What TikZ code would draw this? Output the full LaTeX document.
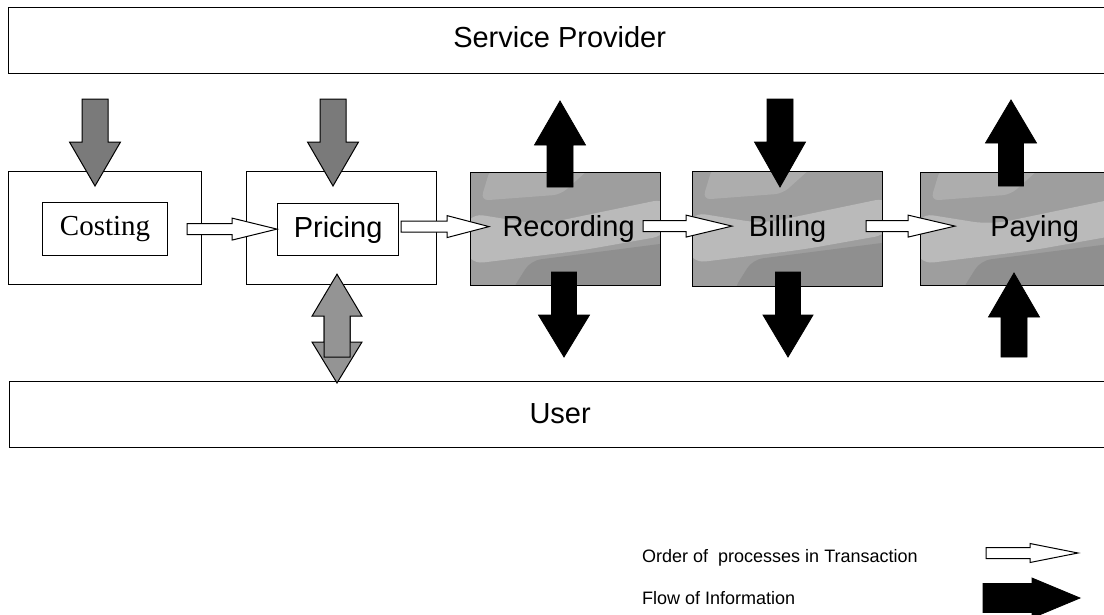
\documentclass[tikz,border=0pt]{standalone}
\usepackage{fontspec}
\setmainfont{Liberation Sans}
\newfontfamily\timesfont{Liberation Serif}
\usetikzlibrary{calc}

% block arrows: style, from, to, shaft half-width, head half-width, head length
\newcommand\rightblock[6]{%
  \path[#1] let \p1=#2, \p2=#3 in
    (\x1,\y1+#4) -- (\x2-#6,\y1+#4) -- (\x2-#6,\y1+#5) -- (\x2,\y1)
    -- (\x2-#6,\y1-#5) -- (\x2-#6,\y1-#4) -- (\x1,\y1-#4) -- cycle;}
\newcommand\downblock[6]{%
  \path[#1] let \p1=#2, \p2=#3 in
    (\x1-#4,\y1) -- (\x1-#4,\y2+#6) -- (\x1-#5,\y2+#6) -- (\x1,\y2)
    -- (\x1+#5,\y2+#6) -- (\x1+#4,\y2+#6) -- (\x1+#4,\y1) -- cycle;}
\newcommand\upblock[6]{%
  \path[#1] let \p1=#2, \p2=#3 in
    (\x1-#4,\y1) -- (\x1-#4,\y2-#6) -- (\x1-#5,\y2-#6) -- (\x1,\y2)
    -- (\x1+#5,\y2-#6) -- (\x1+#4,\y2-#6) -- (\x1+#4,\y1) -- cycle;}

\tikzset{
  labelfont/.style={font=\fontsize{29}{31}\selectfont},
  band/.style={draw, line width=1.3pt, anchor=north west, inner sep=0pt, labelfont},
  stage/.style={draw, line width=1.2pt, anchor=north west, inner sep=0pt},
  inner/.style={draw, line width=1.2pt, anchor=north west, inner sep=0pt, labelfont},
  textured/.style={stage, labelfont, fill=black!38,
    path picture={
      \coordinate (tl) at (path picture bounding box.north west);
      \fill[black!27, rounded corners=18pt]
        ($(tl)+(-5,40)$) -- ($(tl)+(70,52)$) -- ($(tl)+(200,25)$)
        -- ($(tl)+(200,62)$) -- ($(tl)+(110,78)$) -- ($(tl)+(-5,92)$) -- cycle;
      \fill[black!44, rounded corners=10pt]
        ($(tl)+(60,88)$) -- ($(tl)+(200,70)$) -- ($(tl)+(200,120)$) -- ($(tl)+(40,120)$) -- cycle;
      \fill[black!32, rounded corners=8pt]
        ($(tl)+(20,-5)$) -- ($(tl)+(120,-5)$) -- ($(tl)+(90,22)$) -- ($(tl)+(10,28)$) -- cycle;
    }},
  order/.style={draw=black, line width=1pt, fill=white},
  flow/.style={fill=black, draw=black, line width=0.8pt},
  flowgray/.style={fill=black!52, draw=black, line width=1pt},
  flowlight/.style={fill=black!42, draw=black, line width=1pt},
  legendtext/.style={anchor=base west, inner sep=0pt, font=\fontsize{18}{20}\selectfont},
}

\begin{document}
\begin{tikzpicture}[x=1pt, y=-1pt]
\useasboundingbox (0,0) rectangle (1104,614);

% parties
\node[band, minimum width=1102pt, minimum height=66pt, text height=20pt, text depth=6pt]
  (sp) at (8,7) {Service Provider};
\node[band, minimum width=1101pt, minimum height=66pt, text height=20pt, text depth=3pt]
  (user) at (9,381) {User};

% process stages
\node[stage, minimum width=193pt, minimum height=113pt] (cbox) at (8,171) {};
\node[inner, minimum width=125pt, minimum height=53pt, font=\timesfont\fontsize{29}{31}\selectfont]
  (cost) at (42,202) {Costing};
\node[stage, minimum width=190pt, minimum height=113pt] (pbox) at (246,171) {};
\node[inner, minimum width=121pt, minimum height=52pt] (price) at (277,203) {Pricing};
\node[textured, minimum width=190pt, minimum height=113pt] (rec) at (470,172)
  {\hspace*{6pt}Recording};
\node[textured, minimum width=190pt, minimum height=115pt] (bill) at (692,171) {Billing};
\node[textured, minimum width=200pt, minimum height=113pt] (pay) at (920,172)
  {\hspace*{28pt}Paying};

% order of processes
\rightblock{order}{($(cost.east)+(19,0)$)}{($(price.west)+(0,-2)$)}{5.5pt}{11pt}{45pt}
\rightblock{order}{($(price.east)+(2,-3)$)}{($(rec.west)+(19,-3)$)}{5.5pt}{11pt}{42pt}
\rightblock{order}{($(rec.east)+(-18,-3)$)}{($(bill.west)+(40,-3)$)}{5.5pt}{11pt}{46pt}
\rightblock{order}{($(bill.east)+(-17,-3)$)}{($(pay.west)+(35,-3)$)}{5.5pt}{11pt}{47pt}

% flow of information
\coordinate (c-in) at (95,99);
\coordinate (p-in) at (333,99);
\downblock{flowgray}{(c-in)}{(95,186)}{13pt}{25.5pt}{44pt}
\downblock{flowgray}{(p-in)}{(333,186)}{13pt}{25.5pt}{44pt}

% two-way exchange between pricing and user
\downblock{flowlight}{(337,315)}{($(user.north west)+(328,2)$)}{13pt}{25pt}{41pt}
\upblock{flowlight}{(337,357)}{($(pbox.south west)+(91,-11)$)}{13pt}{25pt}{42pt}

\coordinate (r-out) at (560,101);
\coordinate (r-down) at (564,357);
\upblock{flow}{(560,187)}{(r-out)}{13pt}{25.5pt}{44pt}
\downblock{flow}{(564,272)}{(r-down)}{12.5pt}{25.5pt}{42pt}

\coordinate (b-in) at (780,99);
\coordinate (b-down) at (788,357);
\downblock{flow}{(b-in)}{(780,187)}{13pt}{25.5pt}{45pt}
\downblock{flow}{(788,272)}{(b-down)}{12.5pt}{25pt}{42pt}

\coordinate (y-out) at (1011,100);
\coordinate (y-in) at (1014,357);
\upblock{flow}{(1011,186)}{(y-out)}{12.5pt}{25.5pt}{43pt}
\upblock{flow}{(y-in)}{(1014,273)}{13pt}{25.5pt}{44pt}

% legend
\node[legendtext] (lg1) at (642,562) {Order of\ \ processes in Transaction};
\node[legendtext] (lg2) at (642,604) {Flow of Information};
\coordinate (k1a) at (986,553);
\coordinate (k1b) at (1078,553);
\coordinate (k2a) at (983,598);
\coordinate (k2b) at (1080,598);
\rightblock{order}{(k1a)}{(k1b)}{5.5pt}{9.5pt}{48pt}
\rightblock{flow}{(k2a)}{(k2b)}{14.5pt}{20pt}{48pt}
\end{tikzpicture}
\end{document}
